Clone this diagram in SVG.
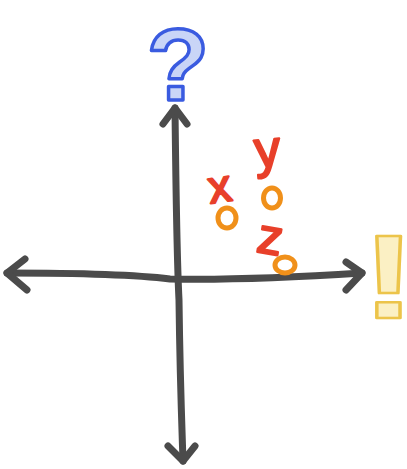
<svg xmlns="http://www.w3.org/2000/svg" width="407" height="469" viewBox="0 0 407 469">
<style>
.axis{fill:none;stroke:#4b4b4b;stroke-width:7;stroke-linecap:round;stroke-linejoin:round}
.lbl{font-family:"Liberation Sans",Arial,sans-serif;fill:#e8402a;stroke:#e8402a;stroke-width:2.2;stroke-linejoin:round}
.pt{fill:none;stroke:#f0901a;stroke-width:5}
</style>
<rect width="407" height="469" fill="#ffffff"/>
<g id="connectors">
<path class="axis" d="M7,273 C60,273 130,274 170,279 C220,280 300,277 362,273"/>
<path class="axis" d="M25,259 L7,273 L27,290"/>
<path class="axis" d="M346,262 L362,273 L346,290"/>
<path class="axis" d="M175,108 C176,200 178,280 179,300 C180,380 182,430 183,461"/>
<path class="axis" d="M163,124 L175,108 L187,124"/>
<path class="axis" d="M168,446 L183,461 L195,446"/>
</g>
<g id="question">
<text x="178" y="100" text-anchor="middle" font-family="Liberation Sans,Arial,sans-serif" font-weight="bold" font-size="102" fill="#c9d5f7" stroke="#3a5be0" stroke-width="3.5" stroke-linejoin="round">?</text>
</g>
<g id="exclaim">
<text x="0" y="0" text-anchor="middle" letter-spacing="-14" transform="translate(379,318) scale(1.4,1)" font-family="Liberation Sans,Arial,sans-serif" font-weight="bold" font-size="118" fill="#fbf0c4" stroke="#ecc44a" stroke-width="2.5" stroke-linejoin="round">!</text>
</g>
<g id="point-x">
<text class="lbl" x="220" y="202" text-anchor="middle" font-size="46" transform="rotate(-8 220 190)">x</text>
<ellipse class="pt" cx="227" cy="218" rx="9" ry="10"/>
</g>
<g id="point-y">
<text class="lbl" x="268" y="167" text-anchor="middle" font-size="52" transform="rotate(-5 268 158)">y</text>
<ellipse class="pt" cx="272" cy="198" rx="8.5" ry="10"/>
</g>
<g id="point-z">
<text class="lbl" x="270" y="254" text-anchor="middle" font-size="50" transform="rotate(10 270 240)">z</text>
<ellipse class="pt" cx="285" cy="265" rx="10" ry="8"/>
</g>
</svg>
